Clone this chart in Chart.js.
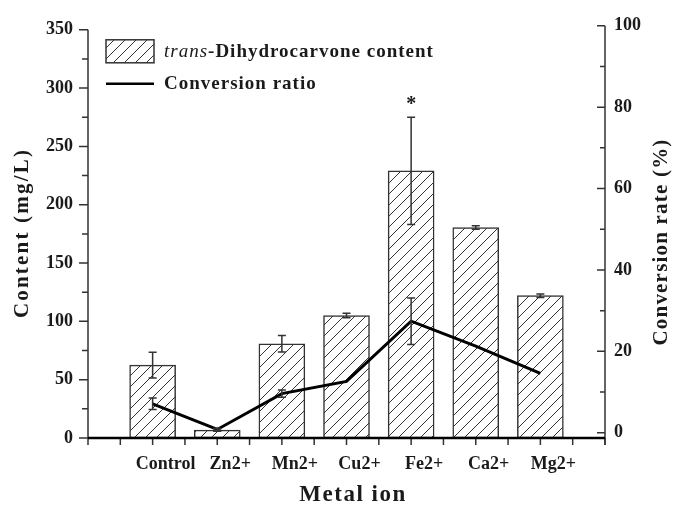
<!DOCTYPE html>
<html>
<head>
<meta charset="utf-8">
<script src="https://cdn.jsdelivr.net/npm/chart.js@4.4.1/dist/chart.umd.min.js"></script>
<style>
  html, body { margin: 0; padding: 0; background: #ffffff; }
  #wrap { width: 675px; height: 515px; }
</style>
</head>
<body>
<div id="wrap"><canvas id="c" width="675" height="515"></canvas></div>
<script>
// Metal ions tested and the measured results
const categories = ['Control', 'Zn2+', 'Mn2+', 'Cu2+', 'Fe2+', 'Ca2+', 'Mg2+'];
const contentMean = [62.5, 6.8, 80.8, 105, 229, 180.5, 122];      // mg/L
const contentErr = [11, 1, 7, 2, 46, 1.5, 1.5];
const conversionMean = [7.1, 0.8, 9.6, 12.6, 27.4, 21.3, 14.6];  // %
const conversionErr = [1.4, 0.3, 0.9, 0, 5.7, 0, 0];
const significance = ['', '', '', '', '*', '', ''];
const contentTicks = [0, 50, 100, 150, 200, 250, 300, 350];
const conversionTicks = [0, 20, 40, 60, 80, 100];

const SERIF = "'Liberation Serif', 'Times New Roman', serif";
const INK = '#1a1a1a';

// Diagonal hatch fill for the bars
function makeHatch() {
  const s = 11;
  const cv = document.createElement('canvas');
  cv.width = s; cv.height = s;
  const g = cv.getContext('2d');
  g.fillStyle = '#ffffff';
  g.fillRect(0, 0, s, s);
  g.strokeStyle = '#333333';
  g.lineWidth = 1;
  g.beginPath();
  g.moveTo(0, s); g.lineTo(s, 0);
  g.moveTo(-s / 2, s / 2); g.lineTo(s / 2, -s / 2);
  g.moveTo(s / 2, s * 1.5); g.lineTo(s * 1.5, s / 2);
  g.stroke();
  return g.createPattern(cv, 'repeat');
}
const hatch = makeHatch();

function spacedText(ctx, text, px, py, spacing) {
  ctx.letterSpacing = spacing + 'px';
  ctx.fillText(text, px, py);
  ctx.letterSpacing = '0px';
}

// Axis lines, tick marks, error bars, significance marks, titles and legend
const decorations = {
  id: 'decorations',
  afterDatasetsDraw(chart) {
    const ctx = chart.ctx;
    const { x, y, y1 } = chart.scales;
    const area = chart.chartArea;
    ctx.save();
    ctx.lineCap = 'butt';

    // error bars
    ctx.strokeStyle = '#333333';
    ctx.lineWidth = 1.5;
    const cap = 4;
    const drawErr = (scale, means, errs) => {
      means.forEach((m, i) => {
        const e = errs[i];
        if (!e) return;
        const px = x.getPixelForValue(i + 1);
        const top = scale.getPixelForValue(m + e);
        const bot = scale.getPixelForValue(m - e);
        ctx.beginPath();
        ctx.moveTo(px, top); ctx.lineTo(px, bot);
        ctx.moveTo(px - cap, top); ctx.lineTo(px + cap, top);
        ctx.moveTo(px - cap, bot); ctx.lineTo(px + cap, bot);
        ctx.stroke();
      });
    };
    drawErr(y, contentMean, contentErr);
    drawErr(y1, conversionMean, conversionErr);

    // significance marks above the error bars
    ctx.fillStyle = INK;
    ctx.font = 'bold 20px ' + SERIF;
    ctx.textAlign = 'center';
    ctx.textBaseline = 'alphabetic';
    significance.forEach((s, i) => {
      if (!s) return;
      const px = x.getPixelForValue(i + 1);
      const top = y.getPixelForValue(contentMean[i] + contentErr[i]);
      ctx.fillText(s, px, top - 7);
    });

    // left axis
    ctx.strokeStyle = '#333333';
    ctx.lineWidth = 1.5;
    ctx.beginPath();
    ctx.moveTo(area.left, y.getPixelForValue(350));
    ctx.lineTo(area.left, area.bottom);
    for (let v = 0; v <= 350; v += 25) {
      const py = y.getPixelForValue(v);
      const len = v % 50 === 0 ? 9 : 6;
      ctx.moveTo(area.left, py); ctx.lineTo(area.left - len, py);
    }
    ctx.stroke();

    // right axis, ticks pointing inward
    ctx.beginPath();
    ctx.moveTo(area.right, area.top);
    ctx.lineTo(area.right, area.bottom + 7);
    for (let v = 0; v <= 100; v += 10) {
      const py = y1.getPixelForValue(v);
      const len = v % 20 === 0 ? 8 : 5;
      ctx.moveTo(area.right, py); ctx.lineTo(area.right - len, py);
    }
    ctx.stroke();

    // bottom axis
    ctx.beginPath();
    for (let v = 0; v <= 8; v += 0.5) {
      const px = x.getPixelForValue(v);
      ctx.moveTo(px, area.bottom); ctx.lineTo(px, area.bottom + 7);
    }
    ctx.stroke();
    ctx.strokeStyle = '#000000';
    ctx.lineWidth = 2.5;
    ctx.beginPath();
    ctx.moveTo(area.left, area.bottom);
    ctx.lineTo(area.right, area.bottom);
    ctx.stroke();

    // axis titles
    ctx.fillStyle = INK;
    ctx.textAlign = 'center';
    ctx.textBaseline = 'middle';
    ctx.font = 'bold 21px ' + SERIF;
    ctx.save();
    ctx.translate(23, 233);
    ctx.rotate(-Math.PI / 2);
    spacedText(ctx, 'Content (mg/L)', 0, 0, 2.2);
    ctx.restore();
    ctx.save();
    ctx.translate(662, 242);
    ctx.rotate(-Math.PI / 2);
    spacedText(ctx, 'Conversion rate (%)', 0, 0, 1.2);
    ctx.restore();
    ctx.font = 'bold 23px ' + SERIF;
    spacedText(ctx, 'Metal ion', 353, 495, 1.5);

    // legend
    const lx = area.left + 18, ly = area.top + 14;
    ctx.fillStyle = hatch;
    ctx.fillRect(lx, ly, 48, 23);
    ctx.strokeStyle = '#333333';
    ctx.lineWidth = 1.5;
    ctx.strokeRect(lx, ly, 48, 23);
    ctx.strokeStyle = '#000000';
    ctx.lineWidth = 2.5;
    ctx.beginPath();
    ctx.moveTo(lx, ly + 44); ctx.lineTo(lx + 48, ly + 44);
    ctx.stroke();
    ctx.fillStyle = INK;
    ctx.textAlign = 'left';
    ctx.textBaseline = 'middle';
    const tx = lx + 58;
    ctx.font = 'italic 19px ' + SERIF;
    ctx.letterSpacing = '1px';
    ctx.fillText('trans', tx, ly + 12);
    const w = ctx.measureText('trans').width;
    ctx.font = 'bold 19px ' + SERIF;
    ctx.fillText('-Dihydrocarvone content', tx + w, ly + 12);
    ctx.fillText('Conversion ratio', tx, ly + 44);
    ctx.letterSpacing = '0px';

    ctx.restore();
  }
};

const tickFont = { family: SERIF, size: 18, weight: 'bold' };

new Chart(document.getElementById('c'), {
  type: 'bar',
  data: {
    datasets: [
      {
        type: 'line',
        label: 'Conversion ratio',
        data: conversionMean.map((v, i) => ({ x: i + 1, y: v })),
        yAxisID: 'y1',
        borderColor: '#000000',
        borderWidth: 3,
        pointRadius: 0,
        tension: 0,
        order: 0
      },
      {
        type: 'bar',
        label: 'trans-Dihydrocarvone content',
        data: contentMean.map((v, i) => ({ x: i + 1, y: v })),
        yAxisID: 'y',
        backgroundColor: hatch,
        borderColor: '#333333',
        borderWidth: 1.5,
        borderSkipped: false,
        barThickness: 46,
        order: 1
      }
    ]
  },
  options: {
    responsive: false,
    animation: false,
    devicePixelRatio: 1,
    layout: { padding: { top: 21, left: 0, right: 0, bottom: 0 } },
    plugins: { legend: { display: false }, tooltip: { enabled: false } },
    scales: {
      x: {
        type: 'linear',
        position: 'bottom',
        offset: false,
        min: 0,
        max: 8,
        afterFit: s => { s.height = 77; },
        grid: { display: false, drawTicks: false, offset: false },
        border: { display: false },
        ticks: {
          stepSize: 0.5,
          autoSkip: false,
          maxRotation: 0,
          padding: 16,
          labelOffset: 13,
          color: INK,
          font: tickFont,
          callback: v => (Number.isInteger(v) && v >= 1 && v <= categories.length) ? categories[v - 1] : ''
        }
      },
      y: {
        type: 'linear',
        position: 'left',
        min: 0,
        max: 353.4,
        afterFit: s => { s.width = 88; },
        afterBuildTicks: s => { s.ticks = contentTicks.map(v => ({ value: v })); },
        grid: { display: false, drawTicks: false },
        border: { display: false },
        ticks: { padding: 15, color: INK, font: tickFont }
      },
      y1: {
        type: 'linear',
        position: 'right',
        min: -1.3,
        max: 100,
        afterFit: s => { s.width = 70; },
        afterBuildTicks: s => { s.ticks = conversionTicks.map(v => ({ value: v })); },
        grid: { display: false, drawTicks: false },
        border: { display: false },
        ticks: { padding: 9, color: INK, font: tickFont }
      }
    }
  },
  plugins: [decorations]
});
</script>
</body>
</html>
